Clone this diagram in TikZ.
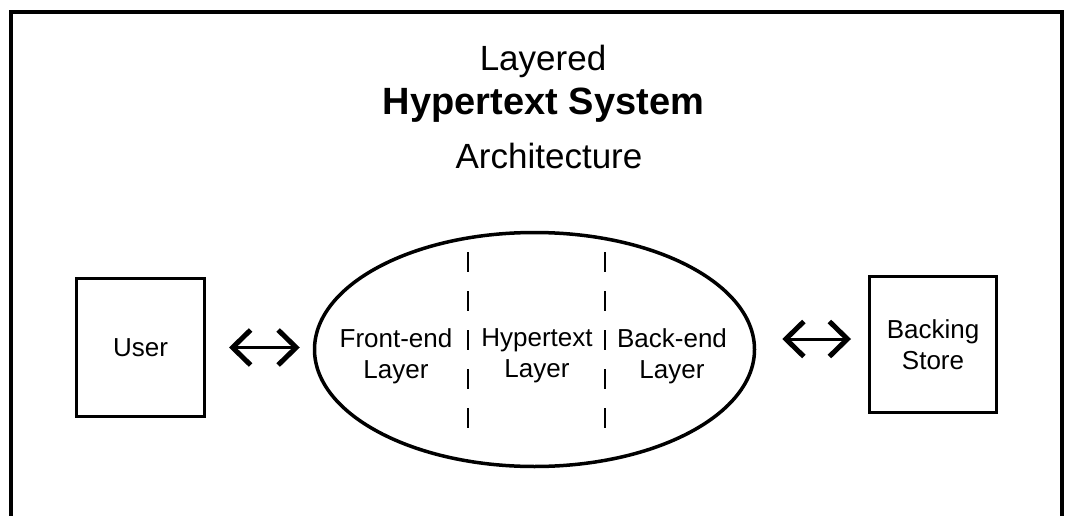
\documentclass[tikz,border=0pt]{standalone}
\usepackage{fontspec}
\setmainfont{Liberation Sans}
\usetikzlibrary{shapes.geometric,arrows.meta,calc}

\tikzset{
  frame/.style={line width=4pt, line join=miter},
  block/.style={draw, line width=3pt, inner sep=0pt, align=center,
                font=\fontsize{26}{31}\selectfont},
  layers/.style={draw, ellipse, line width=3.5pt, inner sep=0pt,
                 minimum width=440pt, minimum height=234pt},
  divider/.style={line width=2pt, dash pattern=on 20pt off 19pt},
  label/.style={align=center, inner sep=0pt, font=\fontsize{26}{31}\selectfont},
  barb/.tip={Straight Barb[length=18pt,width=35pt,line width=5pt]},
  biarrow/.style={line width=3pt, barb-barb},
  heading/.style={anchor=base, inner sep=0pt, font=\fontsize{35}{40}\selectfont},
}

\begin{document}
\begin{tikzpicture}[x=1pt,y=-1pt]
  \useasboundingbox (0,0) rectangle (1065,516);

  % outer frame, open at the bottom
  \draw[frame] (11,520) -- (11,12) -- (1062,12) -- (1062,520);

  % title
  \node[heading] (t1) at (543,71) {Layered};
  \node[heading, font=\fontsize{38}{42}\selectfont\bfseries] (t2) at (543.5,114) {Hypertext System};
  \node[heading] (t3) at (549,168) {Architecture};

  % outer blocks
  \node[block, minimum width=128pt, minimum height=138pt] (user) at (140.5,347.5) {User};
  \node[block, minimum width=127pt, minimum height=136pt] (store) at (933,344.5) {Backing\\Store};

  % the layered system
  \node[layers] (sys) at (534.5,349.5) {};
  \draw[divider] ($(sys.center)+(-66.5,-97.5)$) -- ($(sys.center)+(-66.5,82.5)$);
  \draw[divider] ($(sys.center)+(70.5,-97.5)$) -- ($(sys.center)+(70.5,82.5)$);

  \node[label] (front) at (396,356) {Front-end\\Layer};
  \node[label] (hyper) at (537,356) {Hypertext\\Layer};
  \node[label] (back)  at (672,356) {Back-end\\Layer};

  % two-way links
  \draw[biarrow] ([xshift=23pt]user.east) -- ($(sys.west |- user.east)+(-13,0)$);
  \draw[biarrow] ($(sys.east |- store.west)+(26,-5.5)$) -- ($(store.west)+(-17,-5.5)$);
\end{tikzpicture}
\end{document}
